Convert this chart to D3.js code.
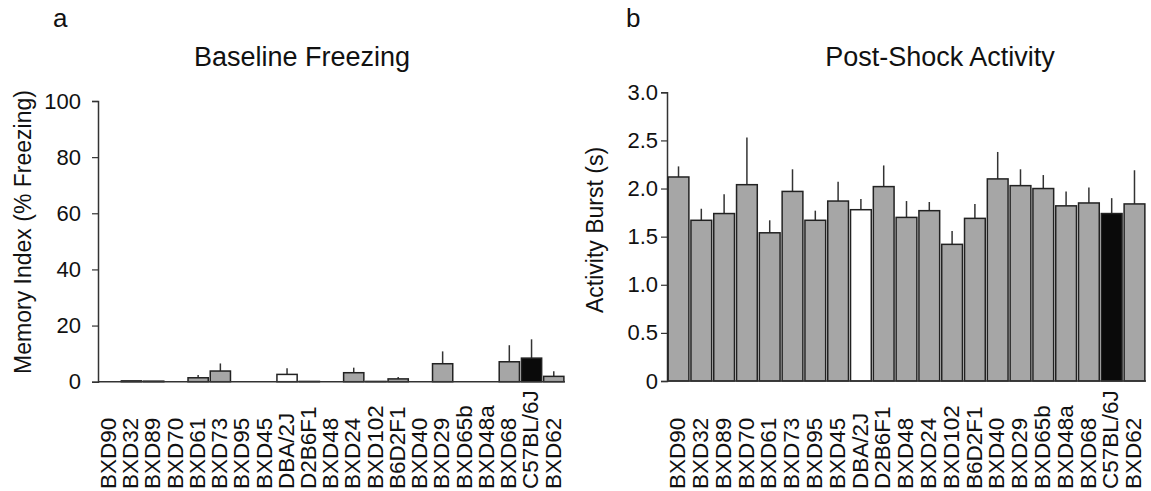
<!DOCTYPE html>
<html>
<head>
<meta charset="utf-8">
<script src="https://cdn.jsdelivr.net/npm/d3@7"></script>
<style>
  body { margin: 0; background: #fff; }
  text { font-family: "Liberation Sans", Arial, sans-serif; fill: #111; }
</style>
</head>
<body>
<div id="chart-area"></div>
<script>
// strains, same order in both panels
var strains = ["BXD90", "BXD32", "BXD89", "BXD70", "BXD61", "BXD73", "BXD95", "BXD45",
  "DBA/2J", "D2B6F1", "BXD48", "BXD24", "BXD102", "B6D2F1", "BXD40", "BXD29",
  "BXD65b", "BXD48a", "BXD68", "C57BL/6J", "BXD62"];

// panel a: baseline freezing (%), mean and mean + sem
var freezeMean = [0, 0.3, 0.2, 0, 1.4, 3.8, 0, 0, 2.6, 0.1, 0, 3.2, 0.1, 1.0, 0, 6.4, 0, 0, 7.1, 8.4, 1.9];
var freezeTop  = [0, 0.3, 0.2, 0, 2.4, 6.5, 0, 0, 4.8, 0.1, 0, 5.0, 0.1, 1.7, 0, 10.8, 0, 0, 13.0, 15.1, 3.7];
var freezeTicks = [0, 20, 40, 60, 80, 100];

// panel b: post-shock activity burst (s)
var burstMean = [2.12, 1.67, 1.74, 2.04, 1.54, 1.97, 1.67, 1.87, 1.78, 2.02, 1.70, 1.77, 1.42, 1.69, 2.10, 2.03, 2.00, 1.82, 1.85, 1.74, 1.84];
var burstTop  = [2.23, 1.79, 1.94, 2.53, 1.67, 2.20, 1.77, 2.07, 1.89, 2.24, 1.87, 1.86, 1.56, 1.84, 2.38, 2.20, 2.14, 1.97, 2.01, 1.90, 2.19];
var burstTicks = [0, 0.5, 1.0, 1.5, 2.0, 2.5, 3.0];

var fills = {"DBA/2J": "#ffffff", "C57BL/6J": "#0a0a0a"};
var gray = "#a6a6a6";

var svg = d3.select("#chart-area").append("svg")
    .attr("width", 1151)
    .attr("height", 491);

function panel(opt) {
    var g = svg.append("g");

    var x = d3.scaleBand().domain(strains)
        .range([opt.left, opt.right])
        .paddingInner(0.09).paddingOuter(0.05);
    var y = d3.scaleLinear().domain([0, opt.max]).range([opt.bottom, opt.top]);

    // y axis
    var yAxis = d3.axisLeft(y).tickValues(opt.ticks).tickSize(6)
        .tickPadding(opt.pad).tickFormat(opt.fmt);
    var ya = g.append("g")
        .attr("transform", "translate(" + opt.left + ",0)")
        .call(yAxis);
    ya.select(".domain").attr("stroke", "#333").attr("stroke-width", 1.5);
    ya.selectAll(".tick line").attr("stroke", "#333").attr("stroke-width", 1.2);
    ya.selectAll(".tick text")
        .attr("font-size", "22px")
        .attr("font-family", "Liberation Sans, Arial, sans-serif")
        .attr("fill", "#111");

    // error bars (upper only)
    g.selectAll(".err").data(strains).enter().append("line")
        .attr("class", "err")
        .attr("x1", (d) => x(d) + x.bandwidth() / 2)
        .attr("x2", (d) => x(d) + x.bandwidth() / 2)
        .attr("y1", (d, i) => y(opt.mean[i]))
        .attr("y2", (d, i) => y(opt.up[i]))
        .attr("stroke", "#333")
        .attr("stroke-width", 1.5);

    // bars
    g.selectAll(".bar").data(strains).enter().append("rect")
        .attr("class", "bar")
        .attr("x", (d) => x(d))
        .attr("width", x.bandwidth())
        .attr("y", (d, i) => y(opt.mean[i]))
        .attr("height", (d, i) => y(0) - y(opt.mean[i]))
        .attr("fill", (d) => fills[d] || gray)
        .attr("stroke", "#222")
        .attr("stroke-width", 1.5);

    // x baseline
    g.append("line")
        .attr("x1", opt.left).attr("x2", opt.right)
        .attr("y1", y(0)).attr("y2", y(0))
        .attr("stroke", "#333").attr("stroke-width", 1.5);

    // strain labels, rotated, bottom aligned
    g.selectAll(".lab").data(strains).enter().append("text")
        .attr("class", "lab")
        .attr("transform", (d) => "translate(" + (x(d) + x.bandwidth() / 2) + ",489) rotate(-90)")
        .attr("dy", "0.3em")
        .attr("text-anchor", "start")
        .attr("font-size", "22.5px")
        .text((d) => d);

    // y label
    g.append("text")
        .attr("transform", "translate(" + opt.ylabX + "," + opt.ylabY + ") rotate(-90)")
        .attr("text-anchor", "middle")
        .attr("dy", "0.35em")
        .attr("font-size", "23px")
        .text(opt.ylab);

    // title and panel letter
    g.append("text")
        .attr("x", opt.titleX).attr("y", 66)
        .attr("text-anchor", "middle")
        .attr("font-size", "27px")
        .text(opt.title);
    g.append("text")
        .attr("x", opt.letterX).attr("y", 27)
        .attr("font-size", "26px")
        .text(opt.letter);
}

panel({
    left: 98, right: 565, top: 101, bottom: 381.7, max: 100,
    ticks: freezeTicks, pad: 11, fmt: d3.format("d"),
    mean: freezeMean, up: freezeTop,
    ylab: "Memory Index (% Freezing)", ylabX: 23, ylabY: 232,
    title: "Baseline Freezing", titleX: 302, letter: "a", letterX: 53
});

panel({
    left: 667, right: 1146, top: 92.3, bottom: 381, max: 3.0,
    ticks: burstTicks, pad: 3, fmt: (d) => d === 0 ? "0" : d3.format(".1f")(d),
    mean: burstMean, up: burstTop,
    ylab: "Activity Burst (s)", ylabX: 595, ylabY: 230,
    title: "Post-Shock Activity", titleX: 940, letter: "b", letterX: 626
});
</script>
</body>
</html>
